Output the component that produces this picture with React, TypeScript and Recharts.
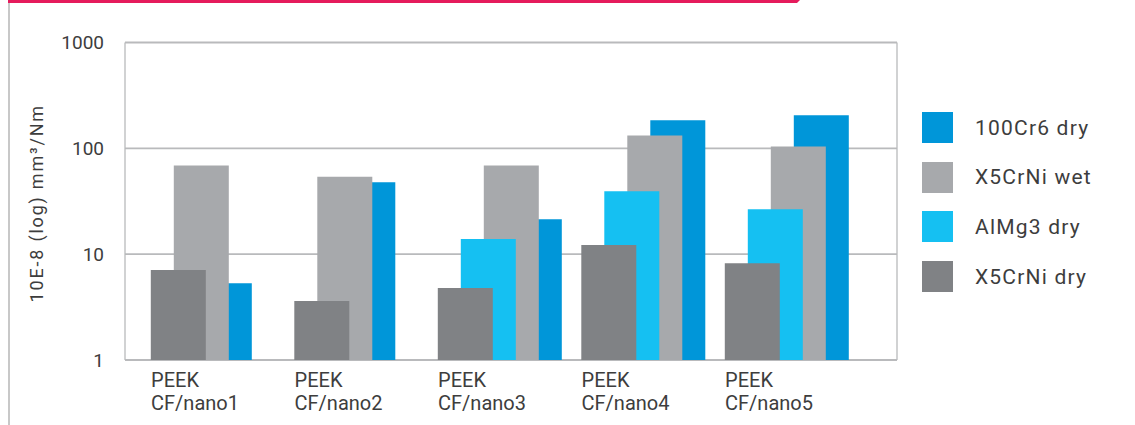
import { BarChart, Bar, XAxis, YAxis, CartesianGrid, Cell, Legend, Label } from 'recharts'

const categories = ['PEEK CF/nano1', 'PEEK CF/nano2', 'PEEK CF/nano3', 'PEEK CF/nano4', 'PEEK CF/nano5']

// wear rate in 10E-8 mm³/Nm
const x5crniDry = [7.1, 3.6, 4.8, 12.2, 8.2]
const almg3Dry = [null, null, 13.9, 39.3, 26.6]
const x5crniWet = [69, 54, 69, 132, 104]
const cr6Dry = [5.3, 47.8, 21.4, 184, 205]

const yTicks = [1, 10, 100, 1000]

// legend order (top to bottom)
const series = [
  { name: '100Cr6 dry', values: cr6Dry, color: '#0096d9' },
  { name: 'X5CrNi wet', values: x5crniWet, color: '#a7a9ac' },
  { name: 'AlMg3 dry', values: almg3Dry, color: '#15c0f2' },
  { name: 'X5CrNi dry', values: x5crniDry, color: '#808285' },
]

const textColor = '#3d3d3d'
const gridColor = '#b9babc'

// bars overlap in staggered slots, left slot in front; empty slots collapse
const slotOrder = [...series].reverse()
const chartData = categories.map((name, i) => {
  const row: Record<string, any> = { name }
  slotOrder
    .filter((s) => s.values[i] != null)
    .forEach((s, k) => {
      row[`v${k}`] = s.values[i]
      row[`c${k}`] = s.color
    })
  return row
})

const slots = [0, 1, 2, 3]
const slotStep = 23

function XTick({ x, y, payload }: any) {
  const [first, ...rest] = String(payload.value).split(' ')
  const tx = x - 27.5
  return (
    <text x={tx} y={y} fill={textColor} fontSize={20} fontFamily="Roboto">
      <tspan x={tx} dy={27}>{first}</tspan>
      <tspan x={tx} dy={23}>{rest.join(' ')}</tspan>
    </text>
  )
}

function YTitle({ viewBox }: any) {
  const cx = viewBox.x + 43
  const cy = viewBox.y + viewBox.height / 2 + 2
  return (
    <text
      x={cx}
      y={cy}
      transform={`rotate(-90, ${cx}, ${cy})`}
      textAnchor="middle"
      fill={textColor}
      fontSize={18}
      letterSpacing={1.8}
      fontFamily="Roboto"
    >
      10E-8 (log) mm³/Nm
    </text>
  )
}

function LegendBox() {
  return (
    <div style={{ fontFamily: 'Roboto', fontSize: 21, letterSpacing: 1.2, color: textColor }}>
      {series.map((s) => (
        <div key={s.name} style={{ display: 'flex', alignItems: 'center', height: 31, marginBottom: 18.7 }}>
          <span style={{ display: 'inline-block', width: 31, height: 31, background: s.color, marginRight: 22 }} />
          <span>{s.name}</span>
        </div>
      ))}
    </div>
  )
}

export default function App() {
  return (
    <div style={{ position: 'absolute', left: 0, top: 0, width: 1135, height: 425, background: '#fff', overflow: 'hidden' }}>
      <div
        style={{
          position: 'absolute',
          left: 8,
          top: 0,
          width: 792,
          height: 3,
          background: '#e51b5c',
          clipPath: 'polygon(0 0, 100% 0, calc(100% - 3px) 100%, 0 100%)',
        }}
      />
      <div style={{ position: 'absolute', left: 8, top: 3, width: 1.5, height: 422, background: '#c8c8c8' }} />
      <BarChart
        width={1135}
        height={425}
        data={chartData}
        margin={{ top: 42.5, right: 238, bottom: 0, left: 0 }}
        style={{ fontFamily: 'Roboto' }}
      >
        <CartesianGrid xAxisId="x0" vertical={false} stroke={gridColor} strokeWidth={1.8} />
        <CartesianGrid
          xAxisId="x0"
          horizontal={false}
          stroke={gridColor}
          strokeWidth={1.3}
          verticalCoordinatesGenerator={({ offset }: any) => [offset.left, offset.left + offset.width]}
        />
        {slots.map((k) => (
          <XAxis
            key={k}
            xAxisId={`x${k}`}
            dataKey="name"
            hide={k !== 0}
            height={65}
            padding={{ left: -18.2 + slotStep * k, right: 72.7 - slotStep * k }}
            axisLine={false}
            tickLine={false}
            tickSize={0}
            tickMargin={0}
            interval={0}
            tick={<XTick />}
          />
        ))}
        <YAxis
          scale="log"
          type="number"
          domain={[1, 1000]}
          ticks={yTicks}
          allowDataOverflow
          width={125}
          axisLine={false}
          tickLine={false}
          tickSize={0}
          tickMargin={21}
          tick={{ fill: textColor, fontSize: 19, fontFamily: 'Roboto' }}
          label={<Label content={<YTitle />} />}
        />
        <Legend
          layout="vertical"
          align="center"
          verticalAlign="middle"
          wrapperStyle={{ left: 922, top: 112, width: 210 }}
          content={<LegendBox />}
        />
        {[...slots].reverse().map((k) => (
          <Bar key={k} xAxisId={`x${k}`} dataKey={`v${k}`} barSize={55} isAnimationActive={false}>
            {chartData.map((row, i) => (
              <Cell key={i} fill={row[`c${k}`] ?? 'transparent'} />
            ))}
          </Bar>
        ))}
      </BarChart>
    </div>
  )
}
